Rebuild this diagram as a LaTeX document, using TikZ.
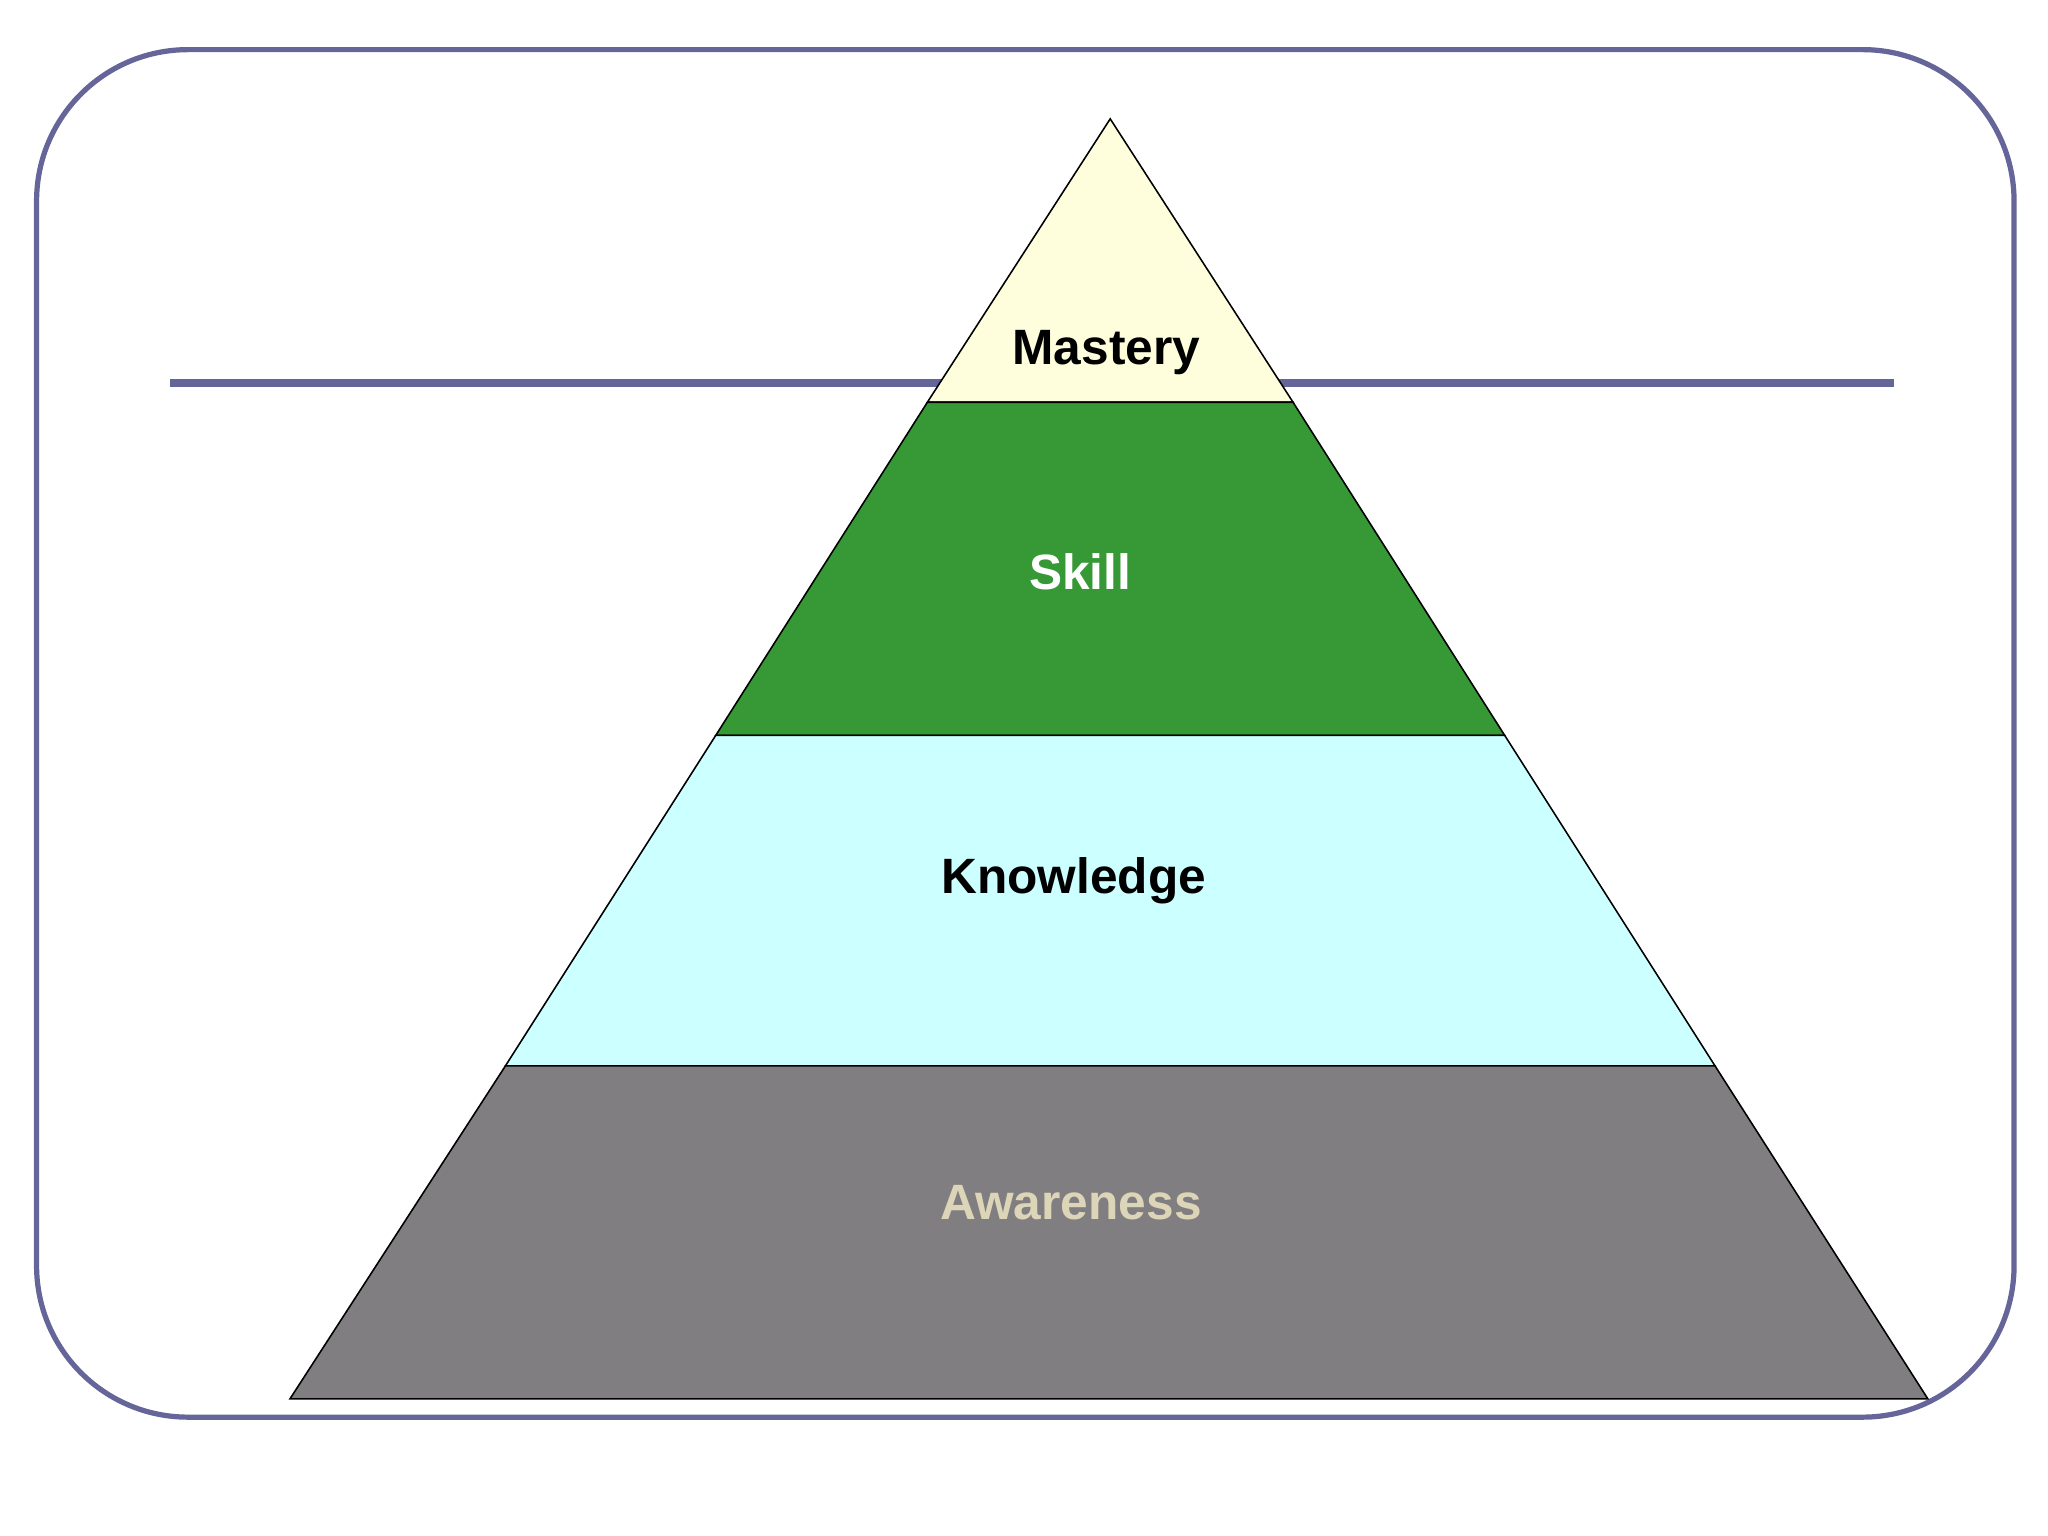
\documentclass[tikz,border=0pt]{standalone}
\usepackage{fontspec}
\setmainfont{Liberation Sans}
\definecolor{frame}{HTML}{65659A}
\definecolor{cMas}{HTML}{FEFEDC}
\definecolor{cSki}{HTML}{379936}
\definecolor{cKno}{HTML}{CCFFFF}
\definecolor{cAwa}{HTML}{807E80}
\definecolor{tAwa}{HTML}{DDD5B8}
\tikzset{layer/.style={draw=black,line width=0.6pt},
lbl/.style={font=\fontsize{19}{22}\selectfont\bfseries}}
\begin{document}
\begin{tikzpicture}[x=0.5pt,y=-0.5pt]
\fill[white] (0,0) rectangle (1568,1176);
\draw[frame,line width=2pt,rounded corners=58pt] (28,38) rectangle (1542,1085);
\draw[frame,line width=3pt] (130,293) -- (1450,293);
\coordinate (apex) at (850,91);
\coordinate (l1) at (710,308); \coordinate (r1) at (990,308);
\coordinate (l2) at (548,563); \coordinate (r2) at (1152,563);
\coordinate (l3) at (387,816); \coordinate (r3) at (1313,816);
\coordinate (l4) at (222,1071); \coordinate (r4) at (1476,1071);
\filldraw[layer,fill=cMas] (apex) -- (r1) -- (l1) -- cycle;
\filldraw[layer,fill=cSki] (l1) -- (r1) -- (r2) -- (l2) -- cycle;
\filldraw[layer,fill=cKno] (l2) -- (r2) -- (r3) -- (l3) -- cycle;
\filldraw[layer,fill=cAwa] (l3) -- (r3) -- (r4) -- (l4) -- cycle;
\node[lbl,text=black] (mas) at (847,270) {Mastery};
\node[lbl,text=white] (ski) at (827,438) {Skill};
\node[lbl,text=black] (kno) at (822,674) {Knowledge};
\node[lbl,text=tAwa] (awa) at (820,921) {Awareness};
\end{tikzpicture}
\end{document}
